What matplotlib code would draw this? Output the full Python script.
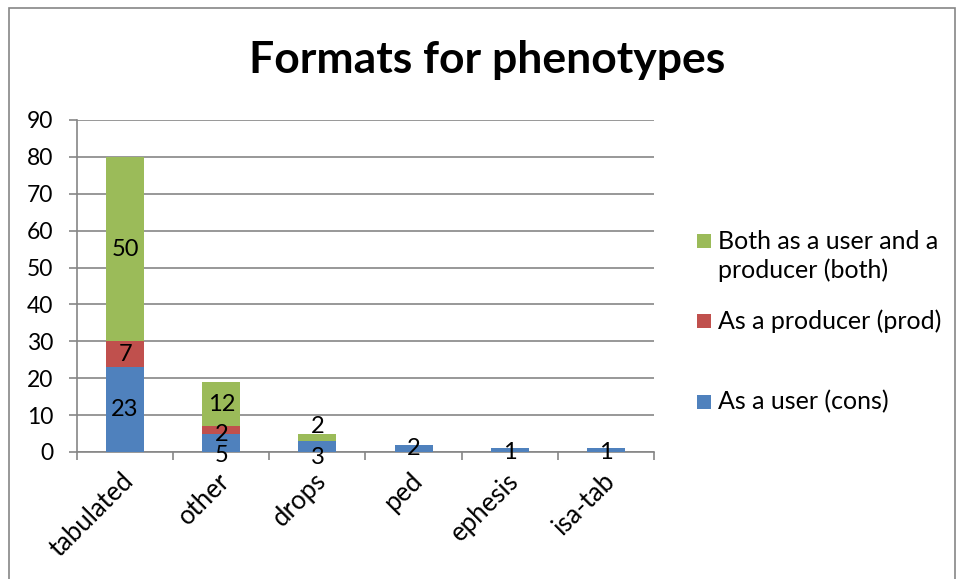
import matplotlib
matplotlib.use("Agg")
import matplotlib.pyplot as plt
import matplotlib.transforms as mtransforms
from matplotlib.patches import Rectangle
import numpy as np

categories = ["tabulated", "other", "drops", "ped", "ephesis", "isa-tab"]
cons = [23, 5, 3, 2, 1, 1]
prod = [7, 2, 0, 0, 0, 0]
both = [50, 12, 2, 0, 0, 0]
series_names = ["As a user (cons)", "As a producer (prod)", "Both as a user and a\nproducer (both)"]
colors = ["#4F81BD", "#C0504D", "#9BBB59"]
yticks = list(range(0, 100, 10))

plt.rcParams['font.family'] = ['Lato', 'DejaVu Sans']
W, H = 957, 579
fig = plt.figure(figsize=(W / 100, H / 100), dpi=100)

def fx(px):
    return px / W

def fy(py):
    return 1 - py / H

ax = fig.add_axes([fx(77), fy(452), fx(654) - fx(77), fy(120) - fy(452)])
x = np.arange(len(categories))
width = 0.395
series = [cons, prod, both]
bottom = np.zeros(len(categories))
bars = []
for vals, c in zip(series, colors):
    ax.bar(x, vals, width, bottom=bottom, color=c, zorder=3)
    bars.append((vals, bottom.copy()))
    bottom += np.array(vals)

# label offsets in points, keyed by (series index, category index), mimic Excel placement
offsets = {(0, 1): -9, (1, 1): -3, (0, 2): -8, (2, 2): 8, (0, 4): -2, (0, 5): -2}
for si, (vals, bot) in enumerate(bars):
    for ci, v in enumerate(vals):
        if v == 0:
            continue
        dy = offsets.get((si, ci), 0)
        ax.annotate(str(v), (x[ci], bot[ci] + v / 2), xytext=(0, dy), textcoords="offset points",
                    ha="center", va="center", fontsize=17, color="black", zorder=5)

ax.set_xlim(-0.5, len(categories) - 0.5)
ax.set_ylim(0, 90)
ax.set_yticks(yticks)
ax.set_yticklabels([str(t) for t in yticks], fontsize=16.5)
ax.yaxis.grid(True, color="#868686", linewidth=1.2, zorder=0)
ax.set_axisbelow(True)
ax.set_xticks(x)
ax.set_xticklabels([])
ax.tick_params(axis="x", length=0)
# category labels, rotated like Excel
lab_tr = ax.get_xaxis_transform() + mtransforms.ScaledTranslation(-4 / 100, -16 / 100, fig.dpi_scale_trans)
for xi, name in zip(x, categories):
    ax.text(xi, 0, name, transform=lab_tr, rotation=45, ha="right", va="top",
            rotation_mode="anchor", fontsize=18.5, clip_on=False)
ax.set_xticks(np.arange(-0.5, len(categories)), minor=True)
ax.tick_params(axis="x", which="minor", length=6, color="#868686", width=1.2)
ax.tick_params(axis="y", length=6, color="#868686", width=1.2, pad=11)
for s in ["top", "right"]:
    ax.spines[s].set_visible(False)
for s in ["left", "bottom"]:
    ax.spines[s].set_color("#868686")
    ax.spines[s].set_linewidth(1.2)

fig.text(fx(487), fy(60), "Formats for phenotypes", ha="center", va="center",
         fontsize=32, fontweight="bold")

# legend (manual, Excel style)
leg = [(2, 241, 256), (1, 321, 321), (0, 402, 402)]
for si, ysq, ytxt in leg:
    fig.patches.append(Rectangle((fx(697), fy(ysq + 7)), fx(14), fy(ysq - 7) - fy(ysq + 7),
                                 transform=fig.transFigure, facecolor=colors[si], edgecolor="none"))
    fig.text(fx(718), fy(ytxt), series_names[si], ha="left", va="center", fontsize=18,
             linespacing=1.3)

# outer border
fig.patches.append(Rectangle((fx(9), fy(600)), fx(955) - fx(9), fy(8) - fy(600),
                             transform=fig.transFigure, facecolor="none", edgecolor="#868686",
                             linewidth=1.2))

fig.savefig("out.png", dpi=100)
